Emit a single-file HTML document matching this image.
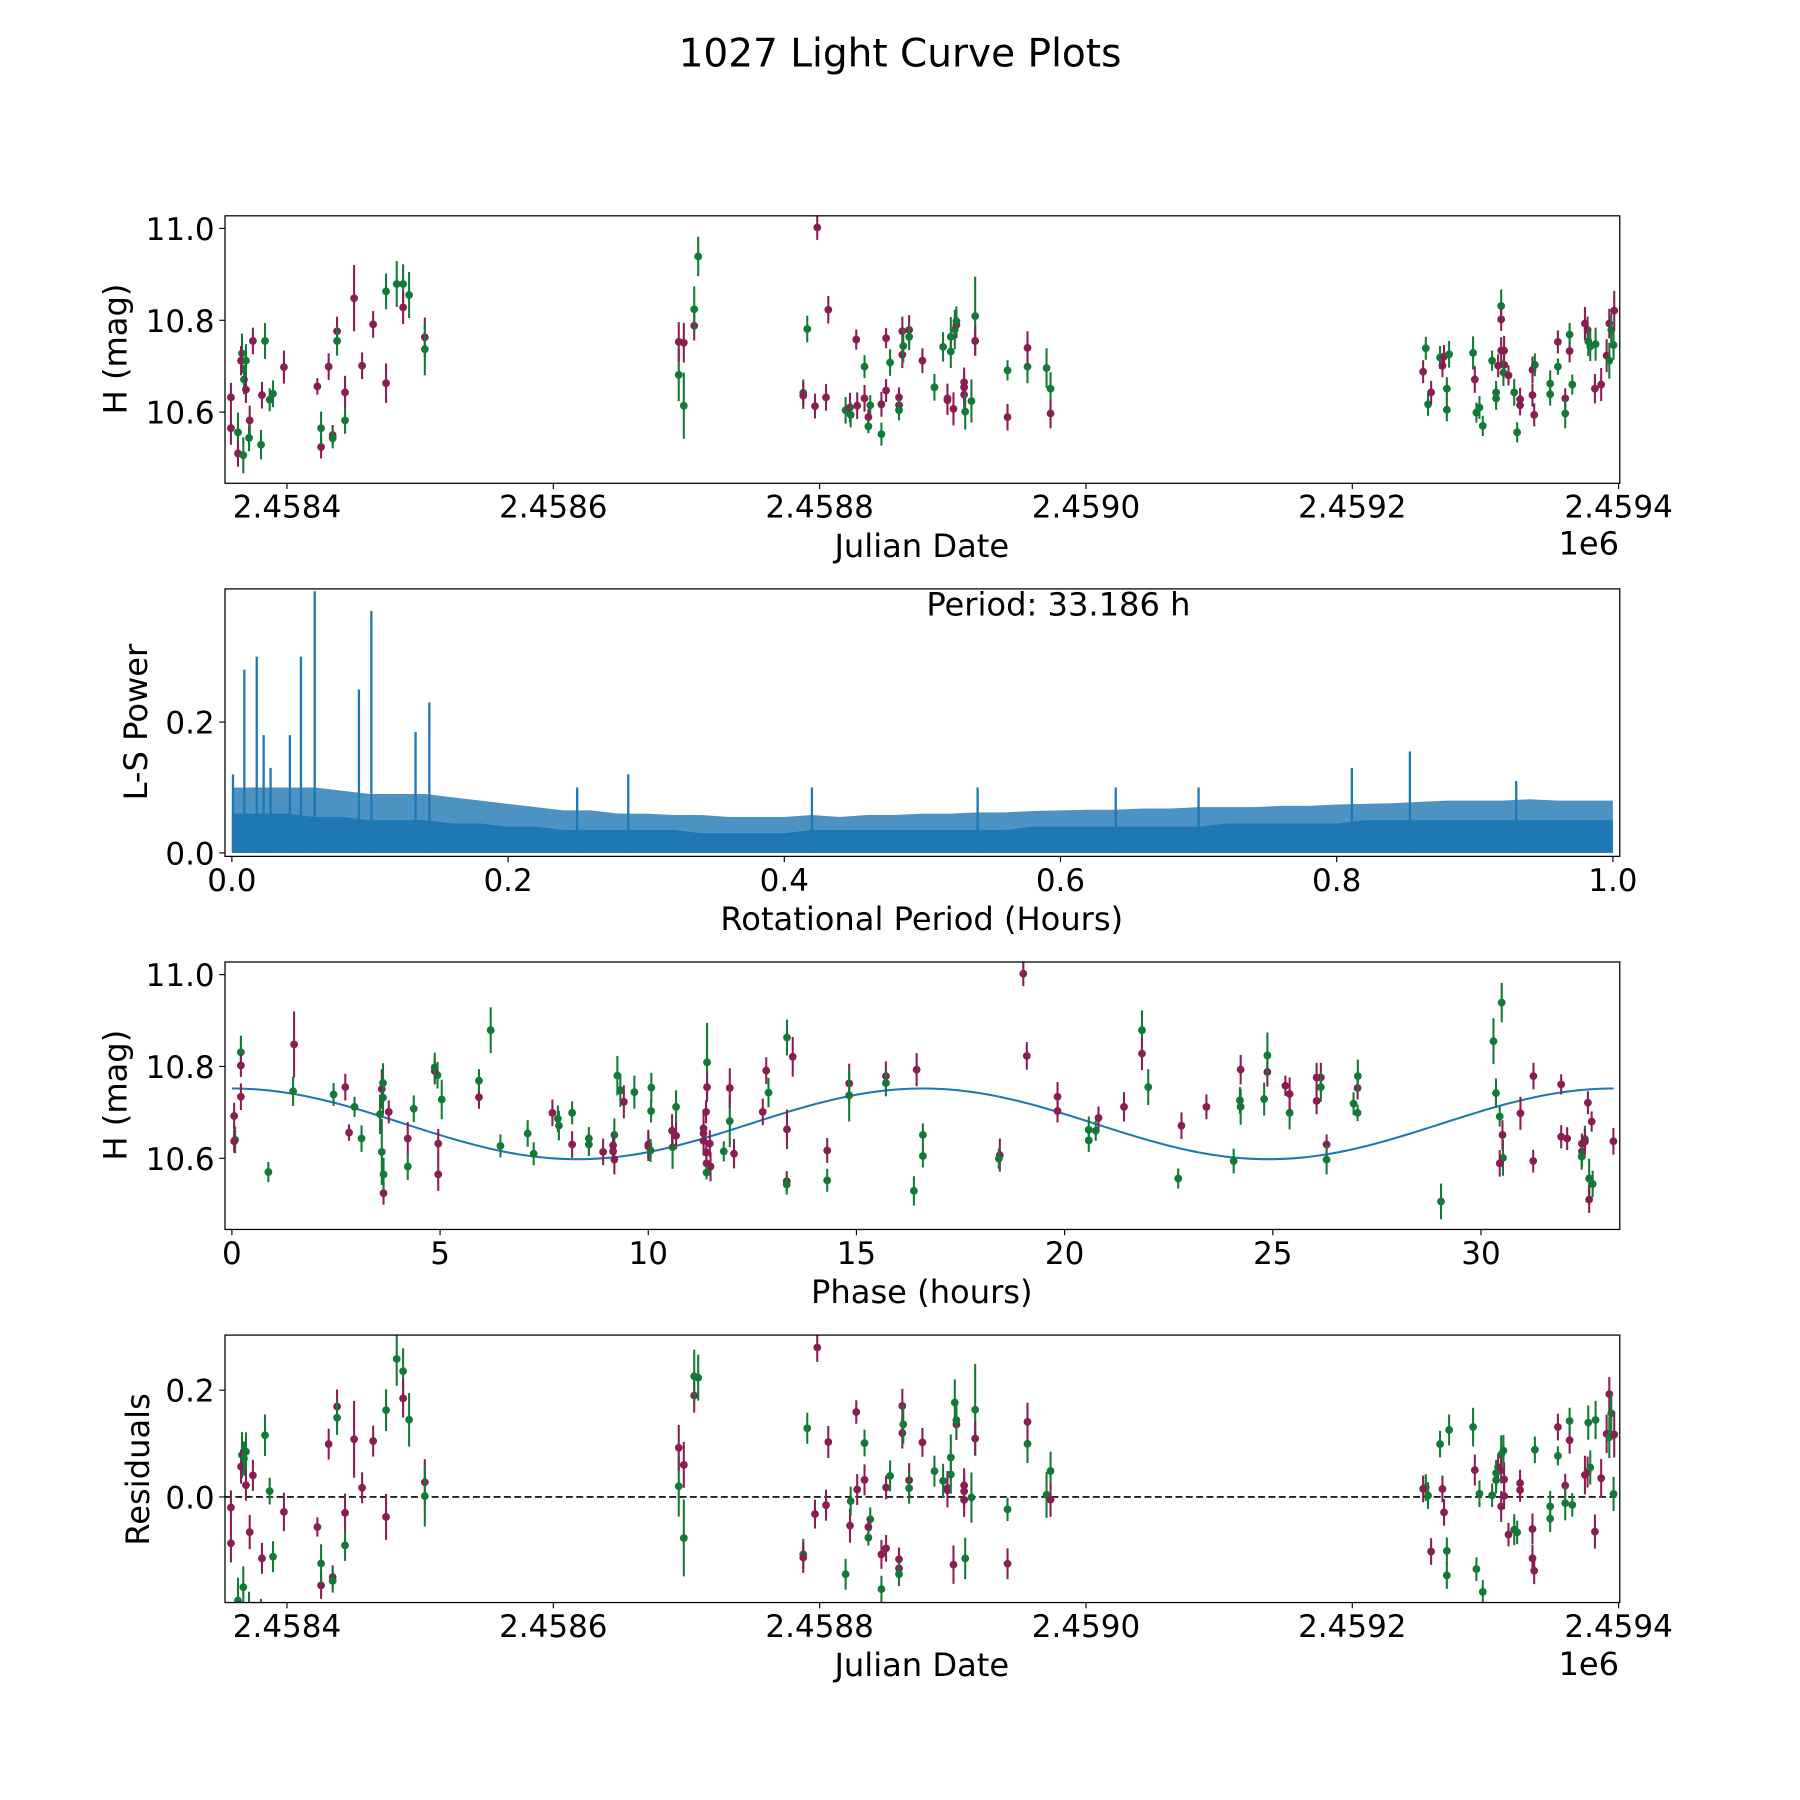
<!DOCTYPE html>
<html><head><meta charset="utf-8"><title>1027 Light Curve Plots</title>
<style>html,body{margin:0;padding:0;background:#fff}svg{display:block}text{font-family:"DejaVu Sans","Liberation Sans",sans-serif;fill:#000}</style>
</head><body>
<svg id="fig" xmlns="http://www.w3.org/2000/svg" width="1800" height="1800" viewBox="0 0 1568 1568">
<rect x="0" y="0" width="1568" height="1568" fill="#fff"/>
<text x="784" y="58" font-size="34" text-anchor="middle">1027 Light Curve Plots</text>
<defs>
<clipPath id="c1"><rect x="196" y="188" width="1215" height="233"/></clipPath>
<clipPath id="c2"><rect x="196" y="513" width="1215" height="233"/></clipPath>
<clipPath id="c3"><rect x="196" y="838" width="1215" height="233"/></clipPath>
<clipPath id="c4"><rect x="196" y="1163" width="1215" height="233"/></clipPath>
</defs>
</svg>
<script>
const jdValues=[2458357.9,2458357.9,2458363.2,2458363.2,2458367.2,2458366.2,2458365.5,2458369.2,2458367.7,2458369.2,2458372.0,2458371.5,2458374.4,2458383.5,2458380.5,2458381.2,2458387.0,2458389.5,2458397.7,2458422.8,2458425.6,2458425.6,2458431.3,2458434.3,2458434.3,2458443.6,2458443.6,2458437.6,2458437.6,2458450.4,2458456.4,2458464.7,2458474.4,2458474.4,2458482.4,2458487.2,2458487.2,2458491.7,2458503.5,2458503.5,
2458694.2,2458698.0,2458694.2,2458698.0,2458705.8,2458705.8,2458708.8,2458787.7,2458787.7,2458790.7,2458796.5,2458798.2,2458804.8,2458806.5,2458819.5,2458822.8,2458823.3,2458827.5,2458828.2,2458833.7,2458833.7,2458838.0,2458836.6,2458836.6,2458846.4,2458846.4,2458849.9,2458849.9,2458852.9,2458859.6,2458859.6,2458859.6,2458862.1,2458862.1,2458862.8,2458867.2,2458867.2,2458877.2,2458886.2,2458892.7,2458896.0,2458896.0,2458900.5,2458898.5,2458898.5,2458901.5,2458902.7,2458902.7,2458908.5,2458908.5,2458908.5,2458909.3,2458914.0,2458916.8,2458916.8,2458941.1,2458941.1,2458956.1,2458956.1,2458970.4,2458973.4,2458973.4,
2459255.2,2459253.2,2459256.9,2459259.2,2459265.9,2459268.9,2459267.7,2459272.7,2459271.0,2459271.0,2459290.7,2459292.0,2459293.2,2459295.5,2459298.0,2459305.0,2459309.5,2459311.8,2459311.8,2459311.8,2459314.0,2459314.0,2459313.5,2459308.0,2459308.0,2459317.3,2459321.6,2459326.0,2459326.0,2459323.8,2459335.3,2459336.6,2459335.3,2459337.1,2459348.6,2459348.6,2459354.4,2459354.4,2459359.9,2459359.9,2459363.2,2459363.2,2459365.2,2459374.7,2459376.7,2459377.2,2459378.7,2459382.7,2459382.2,2459386.9,2459391.0,2459393.0,2459393.0,2459394.5,2459396.2,2459396.7];
const magValues=[10.632,10.565,10.556,10.510,10.506,10.728,10.712,10.712,10.671,10.649,10.582,10.544,10.755,10.755,10.529,10.637,10.627,10.640,10.698,10.656,10.524,10.565,10.699,10.550,10.543,10.643,10.582,10.776,10.755,10.848,10.701,10.791,10.663,10.863,10.879,10.879,10.828,10.855,10.763,10.737,
10.681,10.614,10.753,10.751,10.788,10.824,10.939,10.642,10.636,10.781,10.613,11.002,10.632,10.823,10.604,10.610,10.594,10.758,10.614,10.699,10.630,10.615,10.589,10.569,10.617,10.552,10.761,10.647,10.708,10.632,10.615,10.604,10.776,10.725,10.744,10.779,10.764,10.712,10.654,10.742,10.626,10.630,10.607,10.764,10.732,10.780,10.790,10.798,10.665,10.654,10.638,10.601,10.624,10.809,10.755,10.691,10.589,10.699,10.740,10.696,10.651,10.597,
10.739,10.688,10.617,10.643,10.719,10.721,10.701,10.726,10.651,10.605,10.729,10.671,10.599,10.610,10.570,10.712,10.701,10.734,10.831,10.802,10.734,10.703,10.686,10.643,10.630,10.680,10.643,10.628,10.615,10.556,10.637,10.594,10.692,10.703,10.662,10.639,10.699,10.753,10.630,10.597,10.733,10.769,10.660,10.793,10.779,10.754,10.743,10.748,10.651,10.660,10.723,10.712,10.793,10.779,10.746,10.821];
const errValues=[.032,.036,.043,.029,.039,.043,.032,.036,.032,.029,.032,.029,.029,.039,.032,.029,.025,.029,.036,.018,.025,.036,.029,.022,.022,.036,.029,.032,.032,.072,.029,.029,.043,.039,.050,.043,.036,.050,.043,.057,
.057,.072,.043,.043,.032,.050,.043,.029,.029,.029,.027,.027,.029,.030,.029,.032,.027,.022,.029,.025,.029,.022,.018,.015,.027,.025,.022,.025,.029,.022,.018,.022,.032,.029,.036,.032,.029,.027,.029,.032,.032,.032,.036,.043,.036,.043,.029,.032,.032,.032,.032,.039,.047,.086,.032,.022,.029,.036,.036,.043,.036,.032,
.025,.025,.025,.025,.025,.025,.025,.029,.025,.025,.036,.029,.022,.025,.022,.022,.025,.029,.036,.025,.032,.025,.029,.025,.025,.022,.029,.025,.022,.022,.025,.025,.029,.025,.029,.025,.018,.025,.022,.032,.025,.025,.022,.036,.029,.032,.032,.036,.032,.036,.036,.039,.032,.036,.032,.043];
const bandValues="mmgmggmggmmgmggmggmmmgmmgmgmgmmmmgggmgmg"+"ggmmmgggmgmmmmgmgmmgmgmgmgmmgmmgmmgmgmggmmmgggmgmmmgggmgmgmggmg"+"mgmgmmggggmggggmmgmmmgggmgmmgmmmggggmmgmggmmgggmmmgmggmmg";
// ---- periodogram data ----
const lsGrid=[0,0.02,0.04,0.06,0.08,0.1,0.12,0.14,0.16,0.18,0.2,0.22,0.24,0.26,0.28,0.3,0.32,0.34,0.36,0.38,0.4,0.42,0.44,0.46,0.48,0.5,0.52,0.54,0.56,0.58,0.6,0.62,0.64,0.66,0.68,0.7,0.72,0.74,0.76,0.78,0.8,0.82,0.84,0.86,0.88,0.9,0.92,0.94,0.96,0.98,1.0];
const lsDense=[0.06,0.06,0.06,0.055,0.055,0.05,0.05,0.05,0.045,0.045,0.04,0.04,0.035,0.035,0.035,0.035,0.035,0.03,0.03,0.03,0.03,0.035,0.035,0.035,0.035,0.035,0.035,0.035,0.035,0.04,0.04,0.04,0.04,0.04,0.04,0.04,0.045,0.045,0.045,0.045,0.045,0.05,0.05,0.05,0.05,0.05,0.05,0.05,0.05,0.05,0.05];
const lsPeak=[0.10,0.10,0.10,0.10,0.095,0.09,0.09,0.09,0.085,0.08,0.075,0.07,0.065,0.065,0.06,0.06,0.058,0.058,0.055,0.055,0.055,0.058,0.055,0.058,0.058,0.06,0.06,0.062,0.062,0.064,0.065,0.066,0.066,0.068,0.068,0.07,0.07,0.07,0.072,0.072,0.074,0.075,0.076,0.078,0.08,0.08,0.08,0.082,0.08,0.08,0.08];
const spikeX=[0.0008,0.009,0.018,0.023,0.028,0.042,0.050,0.060,0.092,0.101,0.133,0.143,0.287,0.811,0.853,0.25,0.42,0.54,0.64,0.70,0.93];
const spikeY=[0.12,0.28,0.30,0.18,0.13,0.18,0.30,0.40,0.25,0.37,0.185,0.23,0.12,0.13,0.155,0.10,0.10,0.10,0.10,0.10,0.11];
// ---- model ----
const periodHours=[33.186];
const modelParams=[10.675,0.077,2458797.408];

const NS="http://www.w3.org/2000/svg";
const svg=document.getElementById('fig');
function el(tag,parent){const e=document.createElementNS(NS,tag);(parent||svg).appendChild(e);return e;}
const C={m:'#8a1e52',g:'#127a36'};
const P=periodHours[0];
function model(ph){return modelParams[0]+modelParams[1]*Math.cos(2*Math.PI*ph/(P/2));}
function phaseOf(jd){let h=((jd-modelParams[2])*24)%P;if(h<0)h+=P;return h;}

const x1=jd=>250+(jd-2458400)*232/200;
const y1=m=>199+(11.0-m)*400;
const xp=v=>202+v*1203;
const yp=v=>743-v*570;
const x3=ph=>202+ph*36.27;
const y3=m=>849+(11.0-m)*400;
const y4=r=>1304-r*465;

function frame(top,name){const r=el('rect');r.setAttribute('x',196);r.setAttribute('y',top);r.setAttribute('width',1215);r.setAttribute('height',233);r.setAttribute('fill','none');r.setAttribute('stroke','#000');r.setAttribute('stroke-width','1.1');

}
function xtick(x,yb,label,name){const l=el('line');l.setAttribute('x1',x);l.setAttribute('x2',x);l.setAttribute('y1',yb);l.setAttribute('y2',yb+5);l.setAttribute('stroke','#000');
const t=el('text');t.setAttribute('x',x);t.setAttribute('y',yb+30);t.setAttribute('font-size','27');t.setAttribute('text-anchor','middle');t.textContent=label;

}
function ytick(y,label,name){const l=el('line');l.setAttribute('x1',191);l.setAttribute('x2',196);l.setAttribute('y1',y);l.setAttribute('y2',y);l.setAttribute('stroke','#000');
const t=el('text');t.setAttribute('x',187);t.setAttribute('y',y+10);t.setAttribute('font-size','27');t.setAttribute('text-anchor','end');t.textContent=label;

}
function label(x,y,txt,rot,name){const t=el('text');t.setAttribute('x',x);t.setAttribute('y',y);t.setAttribute('font-size','28');t.setAttribute('text-anchor','middle');if(rot)t.setAttribute('transform','rotate(-90 '+x+' '+y+')');t.textContent=txt;

}
function pt(g,x,y,yl,yh,c){const l=el('line',g);l.setAttribute('x1',x);l.setAttribute('x2',x);l.setAttribute('y1',yl);l.setAttribute('y2',yh);l.setAttribute('stroke',c);l.setAttribute('stroke-width','1.8');
const d=el('circle',g);d.setAttribute('cx',x);d.setAttribute('cy',y);d.setAttribute('r','3.4');d.setAttribute('fill',c);

}

const jdTicks=[2458400,2458600,2458800,2459000,2459200,2459400];
const jdTickLabels=['2.4584','2.4586','2.4588','2.4590','2.4592','2.4594'];

// Panel 1
const g1=el('g');g1.setAttribute('clip-path','url(#c1)');


for(let i=0;i<jdValues.length;i++){const c=C[bandValues[i]]||C.m;pt(g1,x1(jdValues[i]),y1(magValues[i]),y1(magValues[i]-errValues[i]),y1(magValues[i]+errValues[i]),c);}
frame(188,'light-curve-axes');
jdTicks.forEach((v,i)=>xtick(x1(v),421,jdTickLabels[i],'x-tick-label'));
[10.6,10.8,11.0].forEach(v=>ytick(y1(v),v.toFixed(1),'y-tick-label'));
label(803,485,'Julian Date',false,'x-axis-title');
label(1384,483,'1e6',false,'x-offset-text');
label(110,304,'H (mag)',true,'y-axis-title');

// Panel 2
const g2=el('g');g2.setAttribute('clip-path','url(#c2)');


let dp='M'+xp(lsGrid[0])+','+yp(0);lsGrid.forEach((v,i)=>dp+=' L'+xp(v)+','+yp(lsPeak[i]));dp+=' L'+xp(1)+','+yp(0)+'Z';
const a1=el('path',g2);a1.setAttribute('d',dp);a1.setAttribute('fill','#1f77b4');a1.setAttribute('opacity','0.8');
let dd='M'+xp(lsGrid[0])+','+yp(0);lsGrid.forEach((v,i)=>dd+=' L'+xp(v)+','+yp(lsDense[i]));dd+=' L'+xp(1)+','+yp(0)+'Z';
const a2=el('path',g2);a2.setAttribute('d',dd);a2.setAttribute('fill','#1f77b4');
spikeX.forEach((v,i)=>{const l=el('line',g2);l.setAttribute('x1',xp(v));l.setAttribute('x2',xp(v));l.setAttribute('y1',yp(0));l.setAttribute('y2',yp(spikeY[i]));l.setAttribute('stroke','#1f77b4');l.setAttribute('stroke-width','2');

});
frame(513,'periodogram-axes');
[0,0.2,0.4,0.6,0.8,1.0].forEach(v=>xtick(xp(v),746,v.toFixed(1),'x-tick-label'));
[0,0.2].forEach(v=>ytick(yp(v),v.toFixed(1),'y-tick-label'));
label(803,810,'Rotational Period (Hours)',false,'x-axis-title');
label(128,629,'L-S Power',true,'y-axis-title');
label(922,536,'Period: '+P.toFixed(3)+' h',false,'period-annotation');

// Panel 3
const g3=el('g');g3.setAttribute('clip-path','url(#c3)');


let dm='';for(let k=0;k<=300;k++){const ph=P*k/300;dm+=(k?' L':'M')+x3(ph)+','+y3(model(ph));}
const mc=el('path',g3);mc.setAttribute('d',dm);mc.setAttribute('fill','none');mc.setAttribute('stroke','#1f77b4');mc.setAttribute('stroke-width','1.8');


for(let i=0;i<jdValues.length;i++){const c=C[bandValues[i]]||C.m;const ph=phaseOf(jdValues[i]);pt(g3,x3(ph),y3(magValues[i]),y3(magValues[i]-errValues[i]),y3(magValues[i]+errValues[i]),c);}
frame(838,'phase-axes');
[0,5,10,15,20,25,30].forEach(v=>xtick(x3(v),1071,String(v),'x-tick-label'));
[10.6,10.8,11.0].forEach(v=>ytick(y3(v),v.toFixed(1),'y-tick-label'));
label(803,1135,'Phase (hours)',false,'x-axis-title');
label(110,954,'H (mag)',true,'y-axis-title');

// Panel 4
const g4=el('g');g4.setAttribute('clip-path','url(#c4)');


const zl=el('line',g4);zl.setAttribute('x1',196);zl.setAttribute('x2',1411);zl.setAttribute('y1',y4(0));zl.setAttribute('y2',y4(0));zl.setAttribute('stroke','#000');zl.setAttribute('stroke-width','1.5');zl.setAttribute('stroke-dasharray','6,3');


for(let i=0;i<jdValues.length;i++){const c=C[bandValues[i]]||C.m;const r=magValues[i]-model(phaseOf(jdValues[i]));pt(g4,x1(jdValues[i]),y4(r),y4(r-errValues[i]),y4(r+errValues[i]),c);}
frame(1163,'residual-axes');
jdTicks.forEach((v,i)=>xtick(x1(v),1396,jdTickLabels[i],'x-tick-label'));
[0,0.2].forEach(v=>ytick(y4(v),v.toFixed(1),'y-tick-label'));
label(803,1460,'Julian Date',false,'x-axis-title');
label(1384,1459,'1e6',false,'x-offset-text');
label(130,1280,'Residuals',true,'y-axis-title');
</script>
</body></html>
